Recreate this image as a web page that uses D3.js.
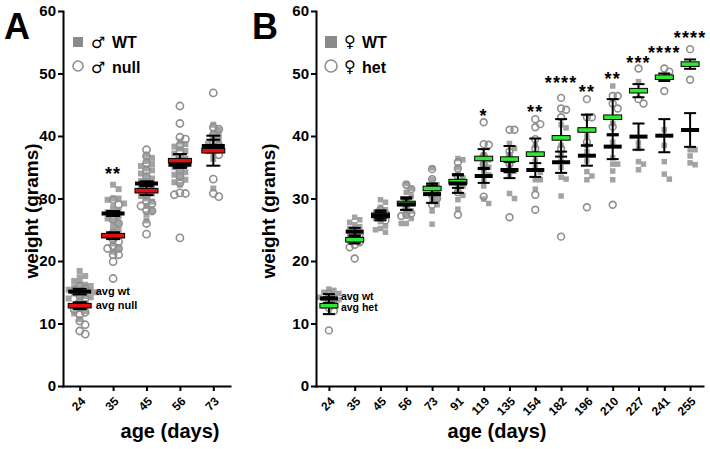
<!DOCTYPE html>
<html><head><meta charset="utf-8">
<script src="https://cdn.jsdelivr.net/npm/d3@7"></script>
<style>
body{margin:0;background:#fff}
text{font-family:"Liberation Sans",Arial,sans-serif;}
</style>
</head><body><svg id="c" width="710" height="449"></svg>
<script>
// ---------- Panel A data ----------
const agesA = ["24","35","45","56","73"];
const wtA = [
  [18.4,17.6,17.4,16.8,16.5,16.2,16.0,15.8,15.6,15.4,15.3,15.1,15.0,14.8,14.6,14.4,14.2,14.0,13.6,13.2,12.8,12.4,12.0,11.6,10.7],
  [32.2,31.5,30.0,30.0,29.8,29.2,28.6,28.2,27.8,27.5,27.2,26.8,26.5,26.0,25.5,25.0,24.5,22.8,22.0,21.5],
  [37.0,36.5,36.0,35.5,35.2,34.8,34.5,34.0,33.6,33.2,32.8,32.4,32.0,31.6,31.2,30.8,30.4,30.0,29.5,28.8,28.0,27.5,26.5],
  [39.1,38.7,38.3,38.0,37.6,37.2,36.8,36.4,36.0,35.7,35.4,35.0,34.6,34.2,33.8,33.4,33.0,32.6,32.2],
  [41.8,41.0,40.5,40.0,39.5,39.0,38.7,38.3,38.0,37.6,37.2,36.3,31.6]
];
const nullA = [
  [16.0,15.6,15.2,14.5,14.0,13.5,13.0,12.6,12.2,11.8,11.4,10.4,9.8,8.8,8.3],
  [29.8,29.0,26.6,26.0,24.5,23.5,23.1,22.4,22.0,22.0,21.0,21.0,19.9,17.2],
  [37.8,36.8,35.7,34.5,33.5,32.5,31.5,30.5,29.6,29.2,28.8,28.1,28.0,26.0,24.3],
  [44.8,42.0,39.8,39.5,38.5,37.5,36.5,35.5,34.5,33.5,32.5,30.9,30.8,30.6,23.7],
  [46.9,41.4,41.1,40.2,39.2,38.5,37.8,37.0,33.1,30.8,30.3]
];
const wtMeanA = [15.1, 27.6, 32.4, 35.4, 38.4];
const wtErrA  = [0.45, 0.4, 0.35, 0.5, 1.0];
const nullMeanA = [12.85, 24.05, 31.25, 36.05, 37.65];
const nullErrA  = [0.55, 0.55, 0.7, 1.05, 2.4];
const sigA  = ["", "**", "", "", ""];
const sigYA = [0, 34.6, 0, 0, 0];

// ---------- Panel B data ----------
const agesB = ["24","35","45","56","73","91","119","135","154","182","196","210","227","241","255"];
const wtB = [
  [15.5,15.3,15.0,14.8,14.6,14.4,14.2,14.0,13.8,13.5,13.2,12.8],
  [27.0,26.6,26.2,25.8,25.5,25.2,24.9,24.6,24.3,24.0,23.5],
  [29.8,29.4,28.6,28.2,27.8,27.5,27.2,26.8,26.3,25.6,25.2,25.0,24.6],
  [32.4,31.6,31.0,30.4,29.8,29.2,28.6,28.0,27.4,26.8,26.0,26.0],
  [34.9,33.0,32.2,31.6,31.0,30.5,30.0,29.5,29.0,28.0,25.9],
  [36.4,36.2,35.0,34.0,33.3,32.8,32.0,31.2,30.5,29.8,28.3],
  [37.0,36.2,35.4,35.0,34.4,33.8,33.0,32.0,29.9,29.2],
  [38.8,38.0,37.0,36.0,35.0,34.4,33.6,30.8,30.0],
  [38.5,37.0,36.0,35.0,34.2,33.0,33.0,31.5],
  [41.8,41.3,38.5,37.0,36.0,35.0,33.4,33.1,30.4],
  [40.0,38.5,37.5,36.0,34.3,33.6,33.0],
  [48.0,42.0,39.0,36.5,35.5,35.5,34.4,33.0],
  [48.7,38.9,38.0,35.9,35.5,34.6],
  [41.0,38.5,35.9,33.9,33.1],
  [37.8,37.8,36.8,35.7,35.4]
];
const hetB = [
  [14.8,14.0,13.5,13.0,12.5,12.0,8.9],
  [25.0,24.2,23.8,23.4,23.0,22.6,22.2,20.4],
  [28.2,27.6,27.0,26.5],
  [32.2,31.5,29.5,28.3,27.6,27.4,27.2],
  [34.7,33.1,31.8,30.5,30.0,29.0],
  [35.8,34.8,33.5,32.5,31.0,27.4],
  [42.2,38.7,38.6,36.8,35.5,30.3],
  [41.0,41.0,37.5,36.5,35.5,27.0],
  [42.7,41.9,41.4,39.5,38.0,30.6,28.2],
  [46.1,44.4,44.2,43.0,38.0,23.9],
  [45.9,43.0,43.0,39.0,28.6],
  [46.4,46.4,45.2,44.4,41.5,29.0],
  [50.8,45.9,45.2],
  [50.8,50.3,47.2],
  [53.9,49.0]
];
const wtMeanB = [14.0,24.7,27.3,29.06,30.7,32.4,33.6,34.56,34.56,35.8,36.85,38.3,39.9,40.05,40.96];
const wtErrB  = [0.7,0.6,0.8,0.9,1.4,1.5,1.1,1.3,1.1,1.7,1.6,2.0,2.1,2.65,2.7];
const hetMeanB = [12.85,23.4,27.3,29.2,31.6,32.7,36.4,36.3,37.1,39.7,40.96,43.0,47.25,49.4,51.5];
const hetErrB  = [1.35,0.6,0.5,1.0,0.8,1.0,1.5,2.1,2.5,3.0,2.45,2.9,1.05,0.6,0.75];
const sigB  = ["","","","","","","*","","**","****","**","**","***","****","****"];
const sigYB = [0,0,0,0,0,0,43.9,0,44.5,49.2,47.7,49.8,52.4,54.0,56.3];

const yTicks = [0,10,20,30,40,50,60];

const svg = d3.select("#c");
svg.append("rect").attr("width",710).attr("height",449).attr("fill","#fff");

function swarm(vals, y, step, minD){
  const pts = vals.map(v=>({y:y(v)})).sort((a,b)=>a.y-b.y);
  const placed=[];
  pts.forEach(p=>{
    for(let k=0;k<40;k++){
      const dx = k===0?0:(k%2?1:-1)*Math.ceil(k/2)*step;
      if(!placed.some(q=>Math.abs(q.y-p.y)<minD && Math.abs(q.dx-dx)<step*0.9)){p.dx=dx;placed.push(p);break;}
    }
  });
  return placed;
}

function panel(o){
  const g = svg.append("g");
  const x = d3.scalePoint().domain(o.ages).range(o.xr).padding(0.5);
  const y = d3.scaleLinear().domain([0,60]).range([386,11]);

  o.ages.forEach((a,i)=>{
    const cx = x(a);
    swarm(o.wt[i], y, o.step, o.minD).forEach(p=>{
      g.append("rect").attr("x",cx+p.dx-o.sq/2).attr("y",p.y-o.sq/2)
        .attr("width",o.sq).attr("height",o.sq).attr("fill","#a3a3a3");
    });
    swarm(o.mut[i], y, o.step, o.minD).forEach(p=>{
      g.append("circle").attr("cx",cx+p.dx).attr("cy",p.y).attr("r",o.cr)
        .attr("fill","none").attr("stroke","#8f8f8f").attr("stroke-width",1.6);
    });
  });

  const drawErr=(cx,m,e)=>{
    g.append("line").attr("x1",cx).attr("x2",cx).attr("y1",y(m-e)).attr("y2",y(m+e))
      .attr("stroke","#000").attr("stroke-width",2);
    [m-e,m+e].forEach(v=>g.append("line").attr("x1",cx-o.cap/2).attr("x2",cx+o.cap/2)
      .attr("y1",y(v)).attr("y2",y(v)).attr("stroke","#000").attr("stroke-width",2));
  };
  o.ages.forEach((a,i)=>{
    const cx=x(a);
    drawErr(cx,o.mutMean[i],o.mutErr[i]);
    drawErr(cx,o.wtMean[i],o.wtErr[i]);
  });
  o.ages.forEach((a,i)=>{
    const cx=x(a);
    g.append("rect").attr("x",cx-o.bw/2).attr("y",y(o.mutMean[i])-2.3).attr("width",o.bw).attr("height",4.6)
      .attr("fill",o.mutColor).attr("stroke","#000").attr("stroke-width",1);
    g.append("rect").attr("x",cx-o.bw/2).attr("y",y(o.wtMean[i])-2).attr("width",o.bw).attr("height",4)
      .attr("fill","#000");
  });

  o.ages.forEach((a,i)=>{
    if(!o.sig[i]) return;
    g.append("text").attr("x",x(a)).attr("y",y(o.sigY[i])+10).attr("text-anchor","middle")
      .attr("font-size",18).attr("font-weight","bold").attr("letter-spacing",1.2).text(o.sig[i]);
  });

  g.append("text").attr("x",x(o.ages[0])+o.lblOff).attr("y",y(o.wtMean[0])+o.lblDy[0])
    .attr("font-size",o.lblFs).attr("font-weight","bold").text("avg wt");
  g.append("text").attr("x",x(o.ages[0])+o.lblOff).attr("y",y(o.mutMean[0])+o.lblDy[1])
    .attr("font-size",o.lblFs).attr("font-weight","bold").text(o.mutLbl);

  const ya = g.append("g").attr("transform",`translate(${o.xr[0]},0)`)
    .call(d3.axisLeft(y).tickValues(yTicks).tickSize(5).tickPadding(2).tickSizeOuter(0));
  ya.selectAll("text").attr("font-size",15).attr("font-weight","bold").attr("fill","#000")
    .style("font-family",'"Liberation Sans",Arial,sans-serif');
  const xa = g.append("g").attr("transform","translate(0,386)")
    .call(d3.axisBottom(x).tickSize(5).tickSizeOuter(0));
  xa.selectAll("text").attr("x",0).attr("y",0).attr("dy","0.35em").attr("text-anchor","end")
    .attr("transform","translate(3,13) rotate(-45)")
    .attr("font-size",12).attr("font-weight","bold").attr("fill","#000")
    .style("font-family",'"Liberation Sans",Arial,sans-serif');
  [ya,xa].forEach(a=>{
    a.select(".domain").attr("stroke","#000").attr("stroke-width",2).attr("stroke-linecap","square");
    a.selectAll(".tick line").attr("stroke","#000").attr("stroke-width",2);
  });

  g.append("text").attr("transform",`translate(${o.yTitleX},211) rotate(-90)`).attr("text-anchor","middle")
    .attr("font-size",19).attr("font-weight","bold").text("weight (grams)");
  g.append("text").attr("x",o.xTitleX).attr("y",438).attr("text-anchor","middle")
    .attr("font-size",20).attr("font-weight","bold").text("age (days)");
  g.append("text").attr("x",o.letterX).attr("y",39).attr("font-size",36).attr("font-weight","bold").text(o.letter);

  const L=o.leg;
  g.append("rect").attr("x",L.x-L.s/2).attr("y",42-L.s/2).attr("width",L.s).attr("height",L.s).attr("fill","#8a8a8a");
  g.append("circle").attr("cx",L.x).attr("cy",66).attr("r",L.s/2).attr("fill","none").attr("stroke","#8a8a8a").attr("stroke-width",1.5);
  [[48,"WT"],[73,o.mutName]].forEach(([yy,t])=>{
    g.append("text").attr("x",L.sx).attr("y",yy+(o.sym==="♀"?-1:0)).attr("font-size",16)
      .style("font-family",'"DejaVu Sans",sans-serif').text(o.sym);
    g.append("text").attr("x",L.tx).attr("y",yy).attr("font-size",16).attr("font-weight","bold").text(t);
  });
}

panel({ages:agesA, xr:[63,230], wt:wtA, mut:nullA, wtMean:wtMeanA, wtErr:wtErrA,
  mutMean:nullMeanA, mutErr:nullErrA, mutColor:"#e01010", sig:sigA, sigY:sigYA,
  step:5.5, minD:5.5, sq:6, cr:3.6, cap:14, bw:23, lblOff:16, lblDy:[3.5,3.5], lblFs:11, mutLbl:"avg null",
  yTitleX:38, xTitleX:170, letter:"A", letterX:4, leg:{x:78,s:10,sx:91,tx:112}, sym:"♂", mutName:"null"});

panel({ages:agesB, xr:[316,703], wt:wtB, mut:hetB, wtMean:wtMeanB, wtErr:wtErrB,
  mutMean:hetMeanB, mutErr:hetErrB, mutColor:"#33e633", sig:sigB, sigY:sigYB,
  step:5, minD:5.5, sq:5.5, cr:3.4, cap:12, bw:18, lblOff:12, lblDy:[1.5,5], lblFs:10.5, mutLbl:"avg het",
  yTitleX:275, xTitleX:497, letter:"B", letterX:252, leg:{x:331,s:12,sx:344,tx:362}, sym:"♀", mutName:"het"});
</script></body></html>
